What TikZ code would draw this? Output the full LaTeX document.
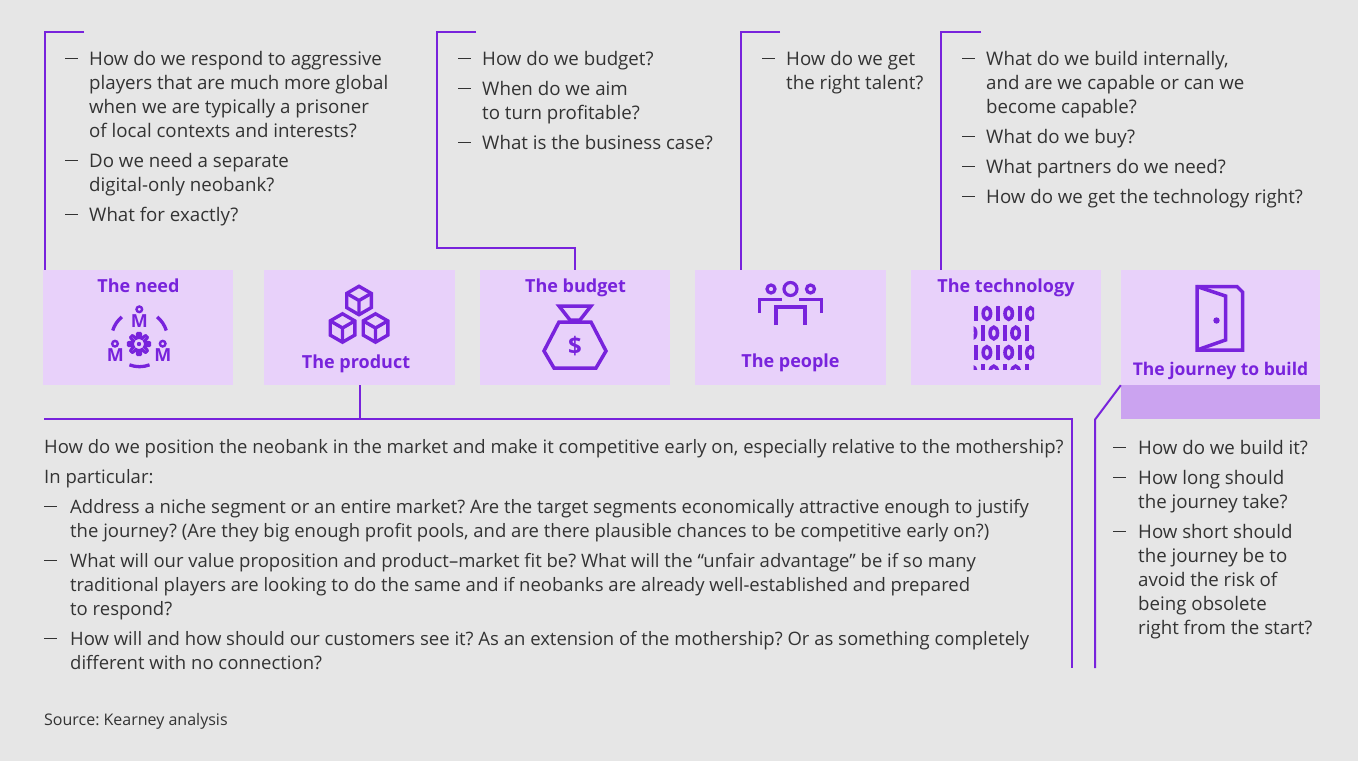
\documentclass[tikz,border=0pt]{standalone}
\usepackage{fontspec}
\setmainfont{Open Sans}
\usepackage{xcolor}
\usetikzlibrary{positioning, calc}

\definecolor{kpurple}{HTML}{7823DC}
\definecolor{klav}{HTML}{E8D1FA}
\definecolor{kband}{HTML}{CBA3F0}
\definecolor{kbg}{HTML}{E6E6E6}
\definecolor{ktext}{HTML}{333333}

\frenchspacing
\newlength\qind
\setlength\qind{24pt}
\newcommand\qdash{\rule[6pt]{13pt}{1.4pt}}
\newcommand\qi[1]{\par\hangindent=\qind\hangafter=1\noindent\makebox[\qind][l]{\qdash}#1\par\vspace{6pt}}

\begin{document}
\begin{tikzpicture}[x=1pt, y=-1pt,
    card/.style={fill=klav, inner sep=0pt, minimum height=115pt},
    link/.style={draw=kpurple, line width=2pt},
    icon/.style={draw=kpurple, line width=3.5pt, line join=miter},
    title/.style={font=\bfseries\fontsize{18}{22}\selectfont, text=kpurple, inner sep=0pt, anchor=base},
    glyph/.style={font=\bfseries\fontsize{18}{18}\selectfont, text=kpurple, inner sep=0pt},
    qs/.style={inner sep=0pt, anchor=base west, text=ktext, font=\fontsize{18.7}{24}\selectfont}]

    \fill[kbg] (0,0) rectangle (1358,761);

    \node[card, minimum width=190pt] (need)    at (138,327.5)   {};
    \node[card, minimum width=191pt] (product) at (359.5,327.5) {};
    \node[card, minimum width=190pt] (budget)  at (575,327.5)   {};
    \node[card, minimum width=191pt] (people)  at (790.5,327.5) {};
    \node[card, minimum width=190pt] (tech)    at (1006,327.5)  {};
    \node[card, minimum width=199pt] (journey) at (1220.5,327.5) {};
    \node[card, fill=kband, minimum width=199pt, minimum height=34pt, anchor=north] (jband) at (journey.south) {};

    \node[title] (needlbl)    at (138.5,292)  {The need};
    \node[title] (productlbl) at (356,368)    {The product};
    \node[title] (budgetlbl)  at (575.5,292)  {The budget};
    \node[title] (peoplelbl)  at (790.5,367)  {The people};
    \node[title] (techlbl)    at (1006,292)   {The technology};
    \node[title, font=\bfseries\fontsize{17.5}{22}\selectfont] (journeylbl) at (1220.5,375) {The journey to build};

    \coordinate (needtop)   at (45,32);
    \coordinate (budgettop) at (437,32);
    \coordinate (peopletop) at (741,32);
    \coordinate (techtop)   at (941,32);
    \coordinate (prodleft)  at (44,419);
    \coordinate (prodend)   at (1072,668);
    \coordinate (jend)      at (1095,668);

    \draw[link] ($(needtop)+(39,0)$) -- (needtop) -- (needtop |- need.north);
    \draw[link] ($(budgettop)+(39,0)$) -- (budgettop) |- ($(budget.north)+(0,-22)$) -- (budget.north);
    \draw[link] ($(peopletop)+(39,0)$) -- (peopletop) -- (peopletop |- people.north);
    \draw[link] ($(techtop)+(40,0)$) -- (techtop) -- (techtop |- tech.north);
    \draw[link] (product.south) -- (product.south |- prodleft);
    \draw[link] (prodleft) -| (prodend);
    \draw[link] (jband.north west) -- (jband.south west -| jend) -- (jend);

    \node[qs] (needq) at (65,65) {\parbox[t]{340pt}{%
        \qi{How do we respond to aggressive\\ players that are much more global\\ when we are typically a prisoner\\ of local contexts and interests?}
        \qi{Do we need a separate\\ digital-only neobank?}
        \qi{What for exactly?}}};
    \node[qs] (budgetq) at (458,65) {\parbox[t]{300pt}{%
        \qi{How do we budget?}
        \qi{When do we aim\\ to turn profitable?}
        \qi{What is the business case?}}};
    \node[qs] (peopleq) at (762,65) {\parbox[t]{175pt}{%
        \qi{How do we get\\ the right talent?}}};
    \node[qs] (techq) at (962,65) {\parbox[t]{390pt}{%
        \qi{What do we build internally,\\ and are we capable or can we\\ become capable?}
        \qi{What do we buy?}
        \qi{What partners do we need?}
        \qi{How do we get the technology right?}}};
    \node[qs, font=\fontsize{18.5}{24}\selectfont] (productq) at (44,453) {\parbox[t]{1025pt}{\setlength\qind{26pt}%
        \noindent How do we position the neobank in the market and make it competitive early on, especially relative to the mothership?\par\vspace{6pt}
        \noindent In particular:\par\vspace{6pt}
        \qi{Address a niche segment or an entire market? Are the target segments economically attractive enough to justify\\ the journey? (Are they big enough profit pools, and are there plausible chances to be competitive early on?)}
        \qi{What will our value proposition and product–market fit be? What will the “unfair advantage” be if so many\\ traditional players are looking to do the same and if neobanks are already well-established and prepared\\ to respond?}
        \qi{How will and how should our customers see it? As an extension of the mothership? Or as something completely\\ different with no connection?}}};
    \node[qs] (journeyq) at (1113,454) {\parbox[t]{240pt}{\setlength\qind{25pt}%
        \qi{How do we build it?}
        \qi{How long should\\ the journey take?}
        \qi{How short should\\ the journey be to\\ avoid the risk of\\ being obsolete\\ right from the start?}}};

    \node[qs, font=\fontsize{16}{20}\selectfont] (source) at (44,725) {Source: Kearney analysis};

    \draw[icon, line width=3.3pt] (139.5,338.7) +(197:28) arc[start angle=197, end angle=231, radius=28];
    \draw[icon, line width=3.3pt] (139.5,338.7) +(309:28) arc[start angle=309, end angle=343, radius=28];
    \draw[icon, line width=3.3pt] (139.5,338.7) +(69:28) arc[start angle=69, end angle=111, radius=28];
    \draw[icon, line width=2.4pt] (139.3,309.3) circle (2.8) (115,343.7) circle (2.8) (162.7,343.7) circle (2.8);
    \node[glyph] (m1) at (139.3,321.2) {M};
    \node[glyph] (m2) at (115.3,355) {M};
    \node[glyph] (m3) at (162.8,355) {M};
    \draw[icon, line width=2.8pt] plot[variable=\t, samples at={0,3,...,357}]
        ({139+(8.5+2.3*max(-1,min(1,2.5*cos(8*\t))))*cos(\t)}, {344+(8.5+2.3*max(-1,min(1,2.5*cos(8*\t))))*sin(\t)}) -- cycle;
    \fill[kpurple] (139,344) circle (2.2);

    \foreach \cx/\cy in {359/300.5, 342.5/328, 375.5/328} {
        \draw[icon, line width=3.4pt] (\cx,\cy) +(30:14.2) -- +(90:14.2) -- +(150:14.2) -- +(210:14.2) -- +(270:14.2) -- +(330:14.2) -- cycle;
        \draw[icon, line width=3.4pt] (\cx,\cy) +(210:14.2) -- (\cx,\cy) -- +(330:14.2) (\cx,\cy) -- +(90:14.2);
    }

    \draw[icon] (559,306) -- (591,306) -- (580,320) -- (570,320) -- cycle;
    \draw[icon] (559,322) -- (591,322) -- (606,351) -- (596,368) -- (554,368) -- (544,351) -- cycle;
    \node[glyph, font=\bfseries\fontsize{24}{24}\selectfont] (dollar) at (575,346.5) {\$};

    \draw[icon, line width=3.2pt] (771,289) circle (4) (790.5,289) circle (6.5) (810.5,289) circle (4);
    \draw[icon, line width=3.6pt] (759.5,313) |- (782,299.5);
    \draw[icon, line width=3.6pt] (821.5,313) |- (799,299.5);
    \draw[icon, line width=3.6pt] (776,325) |- (805,307) -- (805,325);

    \begin{scope}
        \clip (973.5,305) rectangle (1034,369.5);
        \foreach \r in {0,...,3} {
            \foreach \k in {0,...,5} {
                \pgfmathsetmacro\bx{976+10.9*\k-4*mod(\r,2)}
                \pgfmathsetmacro\by{313.5+19.5*\r}
                \pgfmathtruncatemacro\bit{mod(\k+\r,2)}
                \ifnum\bit=0
                    \fill[kpurple] (\bx-2,\by-7.6) rectangle (\bx+2,\by+7.6);
                \else
                    \draw[kpurple, line width=3.6pt] (\bx,\by) ellipse [x radius=3.7, y radius=5.8];
                \fi
            }
        }
    \end{scope}

    \draw[icon] (1197,350) -- (1197,286.5) -- (1237,286.5) -- (1242.5,292) -- (1242.5,350) -- cycle;
    \draw[icon] (1197,286.5) -- (1225.5,296) -- (1225.5,340) -- (1197,350);
    \fill[kpurple] (1216.5,320.5) circle (3.2);
\end{tikzpicture}
\end{document}
